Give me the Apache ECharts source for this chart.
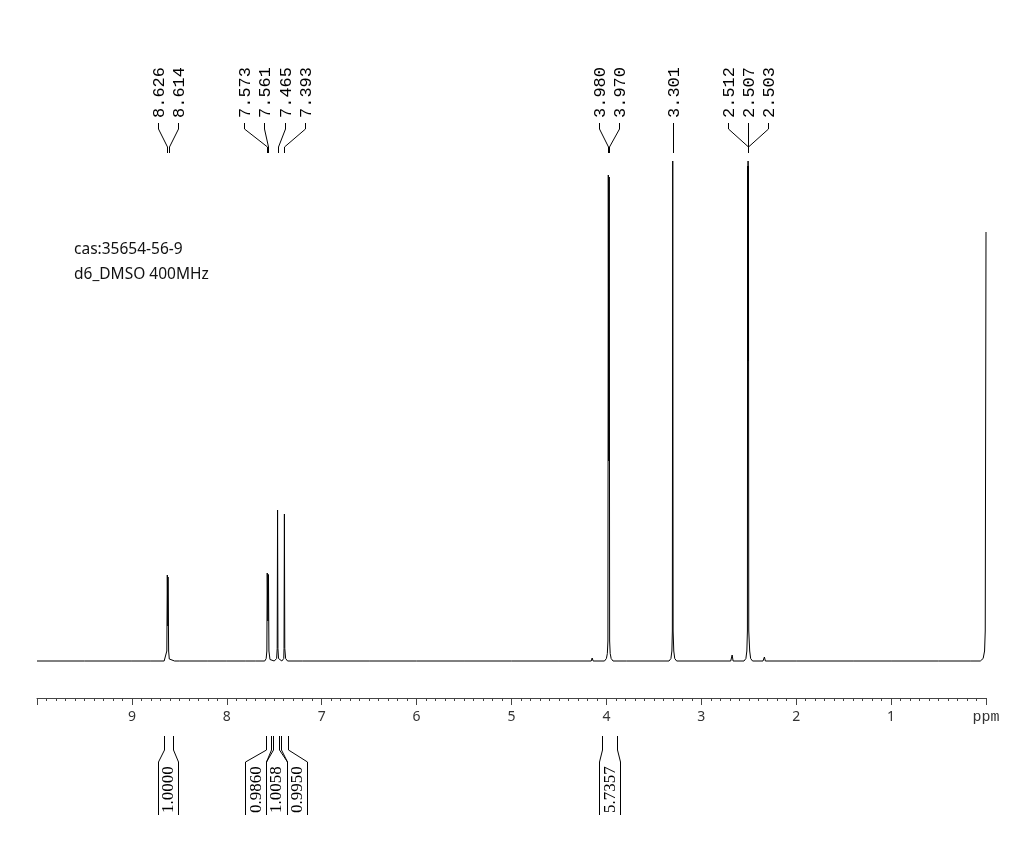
<!DOCTYPE html>
<html>
<head>
<meta charset="utf-8">
<script src="https://cdn.jsdelivr.net/npm/echarts@6/dist/echarts.min.js"></script>
<style>
html,body{margin:0;padding:0;background:#fff;}
#chart{width:1017px;height:860px;}
</style>
</head>
<body>
<div id="chart"></div>
<script>
// ---- data ----
const annotations = ['cas:35654-56-9', 'd6_DMSO 400MHz'];
const axisTickValues = [9, 8, 7, 6, 5, 4, 3, 2, 1];
const axisUnitLabel = 'ppm';

const spectrumPpm = [
  10.0, 9.5, 9.0, 8.8, 8.66, 8.64, 8.632, 8.627, 8.621, 8.619, 8.613, 8.606, 8.59, 8.55, 8.5, 8.2, 8.0, 7.8, 7.7,
  7.60, 7.585, 7.578, 7.574, 7.567, 7.561, 7.556, 7.545, 7.50, 7.475, 7.469, 7.465, 7.461, 7.455, 7.42, 7.40, 7.397, 7.393, 7.389, 7.38, 7.36,
  7.2, 6.5, 6.0, 5.5, 5.0, 4.5,
  4.16, 4.15, 4.14,
  4.02, 4.00, 3.99, 3.984, 3.980, 3.975, 3.970, 3.966, 3.96, 3.95, 3.93,
  3.79, 3.78, 3.77,
  3.34, 3.32, 3.31, 3.305, 3.301, 3.297, 3.29, 3.28, 3.26,
  2.69, 2.675, 2.665,
  2.55, 2.53, 2.52, 2.514, 2.512, 2.509, 2.507, 2.505, 2.503, 2.50, 2.49, 2.48, 2.46,
  2.35, 2.335, 2.325,
  2.0, 1.40, 1.39, 1.38, 1.0, 0.5,
  0.16, 0.15, 0.14,
  0.06, 0.03, 0.015, 0.008, 0.0
];
const spectrumIntensity = [
  0, 0, 0, 0, 0, 0.4, 2, 17.2, 7, 16.8, 2, 0.4, 0.1, 0, 0, 0, 0, 0, 0,
  0, 0.5, 2, 17.6, 8, 17.3, 2, 0.3, 0, 0.5, 2.5, 30.2, 2.5, 0.5, 0, 0.5, 2.5, 29.4, 2.5, 0.5, 0,
  0, 0, 0, 0, 0, 0,
  0, 0.6, 0,
  0, 0.5, 1.5, 4, 97.2, 40, 96.8, 4, 1.5, 0.5, 0,
  0, 0.4, 0,
  0, 0.5, 2, 6, 100, 6, 2, 0.5, 0,
  0, 1.2, 0,
  0, 0.5, 2, 6, 99, 60, 100, 60, 99, 6, 2, 0.5, 0,
  0, 0.8, 0,
  0, 0, 0.3, 0, 0, 0,
  0, 0.3, 0,
  0, 0.5, 2, 6, 85.8
];

const peakGroups = [
  [8.626, 8.614],
  [7.573, 7.561, 7.465, 7.393],
  [3.980, 3.970],
  [3.301],
  [2.512, 2.507, 2.503]
];

const integralRanges = [[8.666, 8.571], [7.59, 7.53], [7.51, 7.45], [7.43, 7.36], [4.045, 3.887]];
const integralValues = ['1.0000', '0.9860', '1.0058', '0.9950', '5.7357'];
const integralGroups = [[0], [1, 2, 3], [4]];

// ---- chart ----
const chart = echarts.init(document.getElementById('chart'), null, {renderer: 'canvas'});

const GRID = {left: 37, right: 31, top: 161, bottom: 162};

chart.setOption({
  animation: false,
  backgroundColor: '#fff',
  grid: GRID,
  xAxis: {
    type: 'value',
    inverse: true,
    min: 0,
    max: 10,
    interval: 1,
    splitLine: {show: false},
    axisLine: {show: true, onZero: false, lineStyle: {color: '#444', width: 1}},
    axisTick: {show: true, length: 7, lineStyle: {color: '#444'}},
    minorTick: {show: true, splitNumber: 10, length: 3, lineStyle: {color: '#444'}},
    axisLabel: {
      margin: 12,
      fontSize: 14,
      fontFamily: 'Noto Sans',
      color: '#333',
      formatter: function (v) {
        if (v === 0) return '{u|' + axisUnitLabel + '}';
        if (axisTickValues.indexOf(v) >= 0) return String(v);
        return '';
      },
      rich: {u: {fontFamily: 'Liberation Mono', fontSize: 15, color: '#333'}}
    }
  },
  yAxis: {type: 'value', show: false, min: -7.4, max: 100},
  series: [{
    type: 'line',
    silent: true,
    showSymbol: false,
    symbol: 'none',
    clip: false,
    lineStyle: {color: '#000', width: 1},
    data: spectrumPpm.map((p, i) => [p, spectrumIntensity[i]])
  }]
});

function px(ppm) { return chart.convertToPixel({xAxisIndex: 0}, ppm); }

const graphics = [];
function vtext(x, yBottom, txt, font) {
  graphics.push({
    type: 'text', x: x, y: yBottom, rotation: Math.PI / 2, silent: true,
    style: {text: txt, font: font, fill: '#000', align: 'left', verticalAlign: 'middle', textAlign: 'left', textVerticalAlign: 'middle'}
  });
}
function pline(points) {
  graphics.push({type: 'polyline', silent: true, shape: {points: points}, style: {stroke: '#000', lineWidth: 1, fill: null}});
}

// peak labels
const LABEL_SP = 20.3;
peakGroups.forEach(group => {
  const xs = group.map(px);
  const c = xs.reduce((a, b) => a + b, 0) / xs.length;
  group.forEach((p, i) => {
    const lx = Math.round(c + (i - (group.length - 1) / 2) * LABEL_SP) + 0.5;
    const pxp = Math.round(xs[i]) + 0.5;
    vtext(lx + 1, 118, p.toFixed(3), '17px "Liberation Mono"');
    pline([[lx, 123], [lx, 129], [pxp, 147], [pxp, 153]]);
  });
});

// integrals
const BOX_W = 20.6;
integralGroups.forEach(grp => {
  const centers = grp.map(k => (px(integralRanges[k][0]) + px(integralRanges[k][1])) / 2);
  const gc = centers.reduce((a, b) => a + b, 0) / centers.length;
  grp.forEach((k, i) => {
    const bc = gc + (i - (grp.length - 1) / 2) * BOX_W;
    const xl = Math.round(px(integralRanges[k][0])) + 0.5;
    const xr = Math.round(px(integralRanges[k][1])) + 0.5;
    const bl = Math.round(bc - BOX_W / 2) + 0.5;
    const br = Math.round(bc + BOX_W / 2) + 0.5;
    pline([[xl, 736], [xl, 750], [bl, 762], [bl, 815]]);
    pline([[xr, 736], [xr, 750], [br, 762], [br, 815]]);
    vtext(Math.round(bc) + 1, 813, integralValues[k], '17px "Liberation Serif"');
  });
});

// annotations
annotations.forEach((t, i) => {
  graphics.push({
    type: 'text', x: 74, y: 250 + i * 25, silent: true,
    style: {text: t, font: '15.5px "Noto Sans"', fill: '#111', align: 'left', verticalAlign: 'middle', textAlign: 'left', textVerticalAlign: 'middle'}
  });
});

chart.setOption({graphic: {elements: graphics}});
</script>
</body>
</html>
